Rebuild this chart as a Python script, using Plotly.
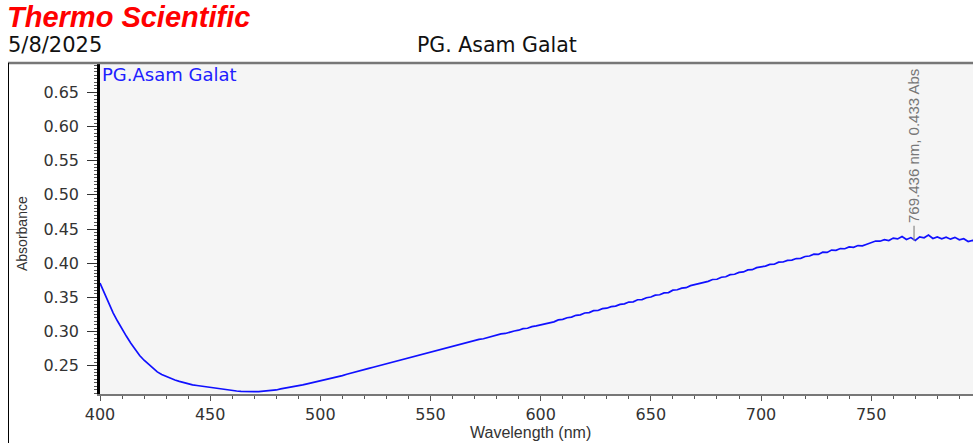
import plotly.graph_objects as go

# ---- data ----
wavelength_nm = list(range(400, 802, 2))
absorbance = [
    0.371, 0.356, 0.341, 0.327, 0.315, 0.303, 0.293, 0.283, 0.273, 0.265,
    0.258, 0.252, 0.246, 0.241, 0.237, 0.234, 0.231, 0.229, 0.227, 0.225,
    0.224, 0.222, 0.221, 0.220, 0.219, 0.218, 0.217, 0.216, 0.215, 0.214,
    0.214, 0.213, 0.2125, 0.212, 0.2115, 0.212, 0.212, 0.2125, 0.213, 0.2135,
    0.2145, 0.216, 0.217, 0.218, 0.2195, 0.221, 0.222, 0.2235, 0.225, 0.226,
    0.227, 0.2285, 0.2302, 0.232, 0.2338, 0.2355, 0.2375, 0.239, 0.2408, 0.2425,
    0.2442, 0.246, 0.2478, 0.2495, 0.2512, 0.2528, 0.2548, 0.2562, 0.2582, 0.26,
    0.2615, 0.2635, 0.265, 0.2668, 0.2682, 0.2702, 0.2715, 0.2735, 0.2748, 0.2768,
    0.2782, 0.2795, 0.2818, 0.2828, 0.2852, 0.2862, 0.2885, 0.2895, 0.2915, 0.2925,
    0.2945, 0.2965, 0.2972, 0.2995, 0.3008, 0.302, 0.3042, 0.3048, 0.3072, 0.3082,
    0.3098, 0.3108, 0.3135, 0.3142, 0.317, 0.3178, 0.3202, 0.3212, 0.3238, 0.3245,
    0.3272, 0.3278, 0.3305, 0.3308, 0.3335, 0.3342, 0.3365, 0.3372, 0.3398, 0.3405,
    0.3432, 0.3435, 0.3465, 0.3468, 0.3495, 0.3505, 0.3532, 0.3538, 0.3565, 0.357,
    0.3605, 0.3612, 0.3635, 0.3642, 0.3672, 0.3685, 0.3698, 0.3722, 0.3735, 0.3762,
    0.3765, 0.3795, 0.3802, 0.3832, 0.3838, 0.3865, 0.3872, 0.3902, 0.3905, 0.3935,
    0.3945, 0.3958, 0.3982, 0.3985, 0.4015, 0.4018, 0.4042, 0.4045, 0.4068, 0.4072,
    0.4098, 0.4105, 0.4132, 0.4128, 0.4162, 0.4158, 0.4192, 0.4188, 0.4215, 0.4212,
    0.4238, 0.4232, 0.4258, 0.4255, 0.4278, 0.4298, 0.4325, 0.4322, 0.4345, 0.4332,
    0.4368, 0.4355, 0.4392, 0.4348, 0.4375, 0.4332, 0.4385, 0.4372, 0.4412, 0.4362,
    0.4385, 0.4358, 0.4382, 0.4352, 0.4378, 0.4342, 0.4358, 0.4318, 0.4335, 0.4305,
    0.432,
]
peak_nm = 769.436
peak_abs = 0.433
peak_label = "769.436 nm, 0.433 Abs"
series_name = "PG.Asam Galat"
chart_title = "PG. Asam Galat"
date_text = "5/8/2025"
brand_text = "Thermo Scientific"
x_title = "Wavelength (nm)"
y_title = "Absorbance"
y_ticks = [0.25, 0.30, 0.35, 0.40, 0.45, 0.50, 0.55, 0.60, 0.65]
x_ticks = [400, 450, 500, 550, 600, 650, 700, 750]

W, H = 973, 443
L, T, B = 100, 63, 49
PW, PH = W - L, H - T - B

def px(x):
    return (x - L) / PW

def py(y):
    return (H - B - y) / PH

fig = go.Figure()
fig.add_trace(go.Scatter(
    x=wavelength_nm, y=absorbance, mode="lines",
    line=dict(color="#1010ff", width=1.7), name=series_name,
    showlegend=False, hoverinfo="skip",
))

tickfont = dict(family="DejaVu Sans", size=16, color="#333333")

fig.update_layout(
    width=W, height=H,
    margin=dict(l=L, r=0, t=T, b=B, autoexpand=False),
    paper_bgcolor="white", plot_bgcolor="#f5f5f5",
    xaxis=dict(
        range=[400, 796.2], tickvals=x_ticks, ticks="outside", ticklen=5,
        tickcolor="#555555", tickfont=tickfont, showgrid=False, zeroline=False,
        showline=True, linecolor="#777777", linewidth=1.5, automargin=False,
        minor=dict(dtick=10, ticks="outside", ticklen=3, tickcolor="#555555"),
    ),
    yaxis=dict(
        range=[0.2086, 0.693], tickvals=y_ticks, tickformat=".2f",
        ticks="outside", ticklen=10, tickcolor="#333333", tickfont=tickfont,
        ticklabelstandoff=5,
        showgrid=False, zeroline=False, automargin=False,
        showline=True, linecolor="#000000", linewidth=2.5,
        minor=dict(dtick=0.005, ticks="outside", ticklen=3, tickcolor="#555555"),
    ),
)

# axis titles
fig.add_annotation(x=px(530), y=py(432), xref="paper", yref="paper",
                   text=x_title, showarrow=False, xanchor="center", yanchor="middle",
                   font=dict(family="Liberation Sans", size=16, color="#333333"))
fig.add_annotation(x=px(22), y=py(234), xref="paper", yref="paper",
                   text=y_title, textangle=-90, showarrow=False,
                   xanchor="center", yanchor="middle",
                   font=dict(family="Liberation Sans", size=14, color="#333333"))

# frame lines
fig.add_shape(type="line", xref="paper", yref="paper",
              x0=px(8), x1=1.0, y0=1.0, y1=1.0,
              line=dict(color="#777777", width=2.5))
fig.add_shape(type="line", xref="paper", yref="paper",
              x0=px(8.5), x1=px(8.5), y0=py(H), y1=1.0,
              line=dict(color="#000000", width=1))

# peak marker
fig.add_shape(type="line", xref="x", yref="y",
              x0=peak_nm, x1=peak_nm, y0=peak_abs, y1=peak_abs + 0.022,
              line=dict(color="#888888", width=1.2))
fig.add_annotation(x=peak_nm, y=peak_abs + 0.023, xref="x", yref="y",
                   text=peak_label, textangle=-90, showarrow=False,
                   xanchor="center", yanchor="bottom",
                   font=dict(family="Liberation Sans", size=15, color="#777777"))

# header texts
fig.add_annotation(x=px(5), y=py(17), xref="paper", yref="paper",
                   text="<b><i>" + brand_text + "</i></b>", showarrow=False,
                   xanchor="left", yanchor="middle",
                   font=dict(family="Liberation Sans", size=29, color="#ff0000"))
fig.add_annotation(x=px(6), y=py(45), xref="paper", yref="paper",
                   text=date_text, showarrow=False, xanchor="left", yanchor="middle",
                   font=dict(family="DejaVu Sans", size=21, color="#111111"))
fig.add_annotation(x=px(497), y=py(45), xref="paper", yref="paper",
                   text=chart_title, showarrow=False, xanchor="center", yanchor="middle",
                   font=dict(family="DejaVu Sans", size=20.5, color="#111111"))
fig.add_annotation(x=px(100), y=1.0, xref="paper", yref="paper",
                   text=series_name, showarrow=False, xanchor="left", yanchor="top",
                   yshift=1,
                   font=dict(family="DejaVu Sans", size=18, color="#2020ff"))

fig.write_html("out.html", config={"displayModeBar": False},
               post_script="document.body.style.margin='0';document.body.style.overflow='hidden';")
